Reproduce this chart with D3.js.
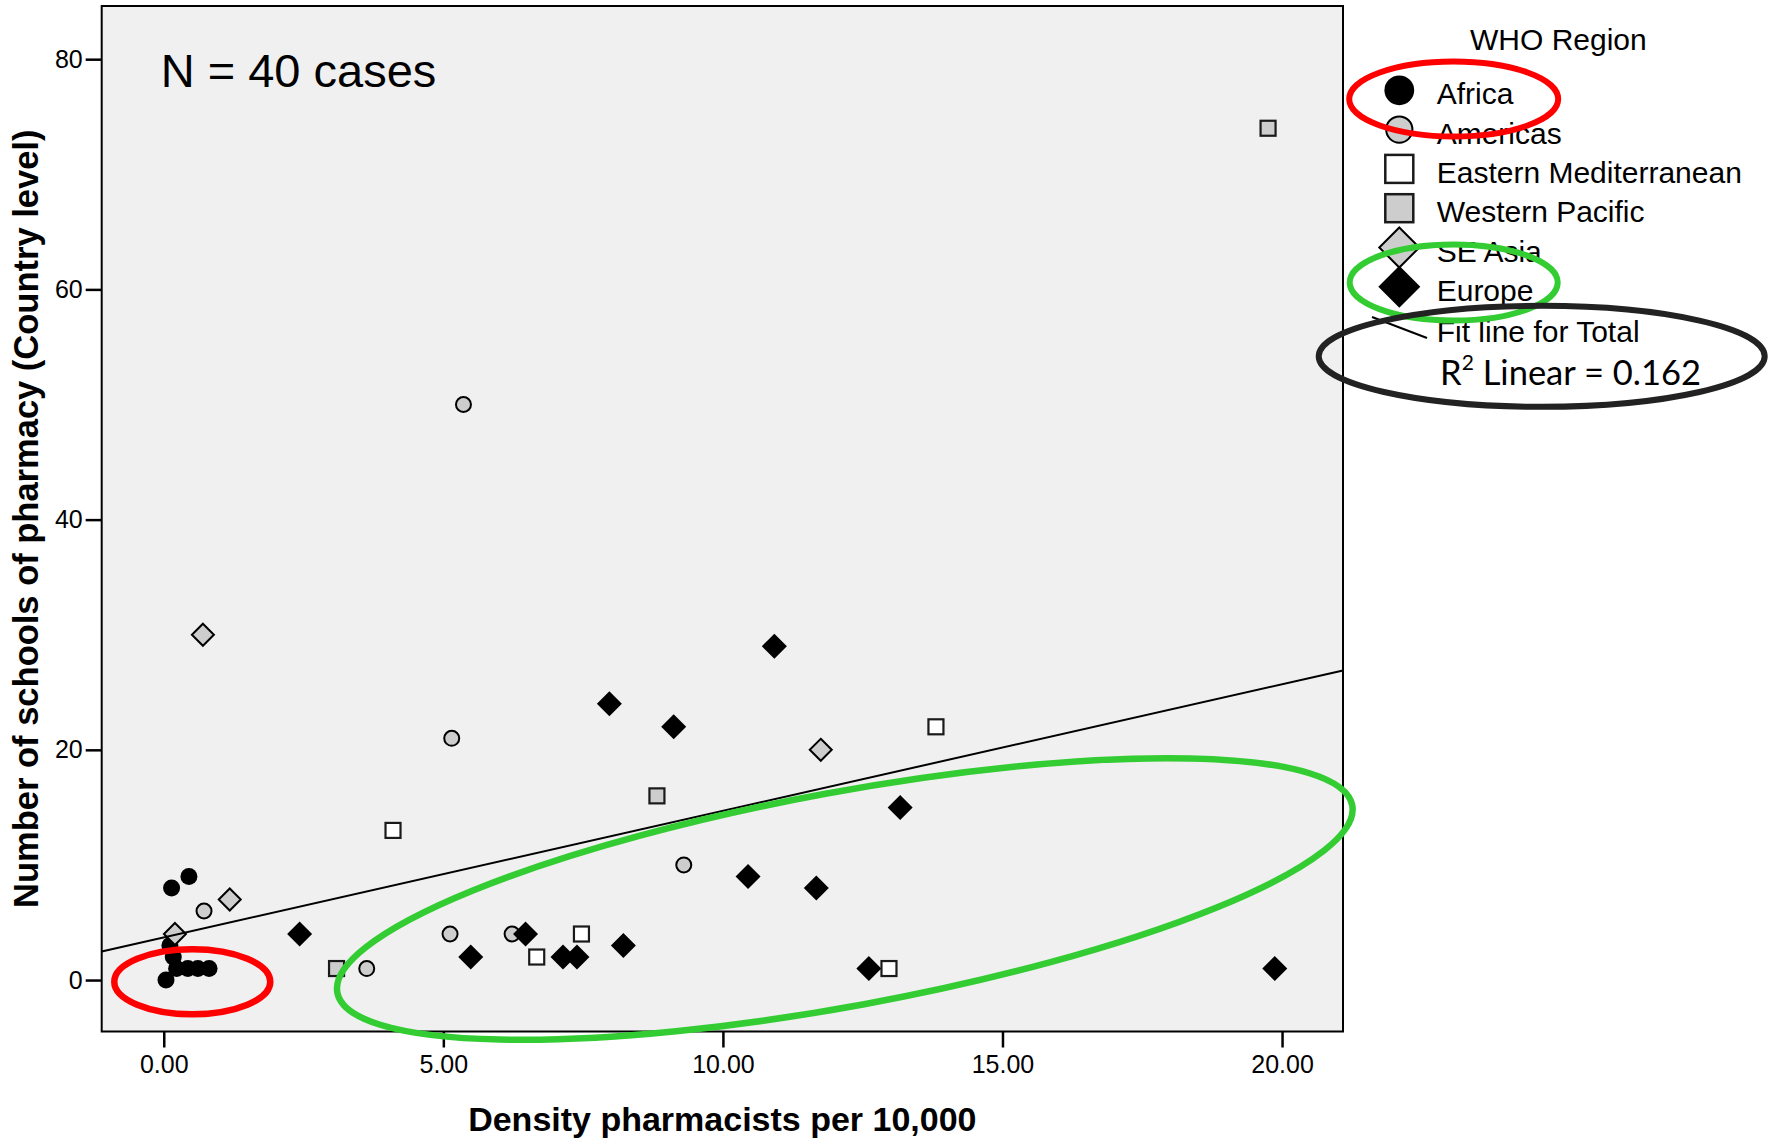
<!DOCTYPE html>
<html>
<head>
<meta charset="utf-8">
<script src="https://cdn.jsdelivr.net/npm/d3@7"></script>
<style>
  body { margin: 0; background: #fff; }
  text { font-family: "Liberation Sans", Arial, sans-serif; }
</style>
</head>
<body>
<div class="chart"></div>
<script>
// --- data ---
var regions = ['Africa', 'Americas', 'Eastern Mediterranean', 'Western Pacific', 'SE Asia', 'Europe'];

var region = [
  'Africa', 'Africa', 'Africa', 'Africa', 'Africa', 'Africa', 'Africa', 'Africa', 'Africa',
  'Americas', 'Americas', 'Americas', 'Americas', 'Americas', 'Americas', 'Americas',
  'Europe', 'Europe', 'Europe', 'Europe', 'Europe', 'Europe', 'Europe',
  'Europe', 'Europe', 'Europe', 'Europe', 'Europe', 'Europe', 'Europe',
  'Eastern Mediterranean', 'Eastern Mediterranean', 'Eastern Mediterranean', 'Eastern Mediterranean', 'Eastern Mediterranean',
  'Western Pacific', 'Western Pacific', 'Western Pacific',
  'SE Asia', 'SE Asia', 'SE Asia', 'SE Asia'
];
var density = [
  0.14, 0.45, 0.11, 0.17, 0.23, 0.43, 0.61, 0.81, 0.04,
  0.72, 5.36, 5.15, 5.12, 6.23, 3.63, 9.30,
  10.92, 7.97, 9.12, 13.17, 10.45, 11.67, 2.43,
  6.47, 8.22, 5.49, 7.14, 7.39, 12.61, 19.87,
  13.81, 4.10, 7.47, 6.67, 12.97,
  19.75, 8.82, 3.09,
  0.70, 11.75, 1.18, 0.20
];
var schools = [
  8, 9, 3, 2, 1, 1, 1, 1, 0,
  6, 50, 21, 4, 4, 1, 10,
  29, 24, 22, 15, 9, 8, 4,
  4, 3, 2, 2, 2, 1, 1,
  22, 13, 4, 2, 1,
  74, 16, 1,
  30, 20, 7, 4
];
var xTicks = [0, 5, 10, 15, 20];
var yTicks = [0, 20, 40, 60, 80];
var fitIntercept = 3.7, fitSlope = 1.1, rSquared = '0.162', nCases = 40;

// marker look per region
var markerStyle = {
  'Africa':                { shape: 'circle',  fill: '#000',    stroke: 'none' },
  'Americas':              { shape: 'circle',  fill: '#cdcdcd', stroke: '#000' },
  'Eastern Mediterranean': { shape: 'square',  fill: '#fff',    stroke: '#1a1a1a' },
  'Western Pacific':       { shape: 'square',  fill: '#cdcdcd', stroke: '#1a1a1a' },
  'SE Asia':               { shape: 'diamond', fill: '#cdcdcd', stroke: '#000' },
  'Europe':                { shape: 'diamond', fill: '#000',    stroke: 'none' }
};

var W = 1778, H = 1140;
var plot = { left: 101.7, right: 1343, top: 6, bottom: 1031.5 };

var svg = d3.select('.chart')
  .append('svg')
  .attr('width', W)
  .attr('height', H);

var x = d3.scaleLinear().domain([-1.11, 21.09]).range([plot.left, plot.right]);
var y = d3.scaleLinear().domain([-4.47, 84.62]).range([plot.bottom, plot.top]);

// plot background + frame
svg.append('rect')
  .attr('x', plot.left).attr('y', plot.top)
  .attr('width', plot.right - plot.left).attr('height', plot.bottom - plot.top)
  .attr('fill', '#f0f0f0')
  .attr('stroke', '#000')
  .attr('stroke-width', 2);

// axes
var xAxis = svg.append('g')
  .attr('transform', 'translate(0,' + plot.bottom + ')')
  .call(d3.axisBottom(x).tickValues(xTicks).tickFormat(d3.format('.2f')).tickSize(16).tickPadding(8));
var yAxis = svg.append('g')
  .attr('transform', 'translate(' + plot.left + ',0)')
  .call(d3.axisLeft(y).tickValues(yTicks).tickFormat(d3.format('d')).tickSize(16).tickPadding(3));

[xAxis, yAxis].forEach(function (a) {
  a.select('.domain').remove();
  a.selectAll('.tick line').attr('stroke', '#000').attr('stroke-width', 2.5);
  a.selectAll('.tick text')
    .attr('fill', '#000')
    .style('font-family', '"Liberation Sans", Arial, sans-serif')
    .style('font-size', '25px');
});

// axis titles
svg.append('text')
  .attr('x', (plot.left + plot.right) / 2)
  .attr('y', 1131)
  .attr('text-anchor', 'middle')
  .style('font-size', '34px')
  .style('font-weight', 'bold')
  .text('Density pharmacists per 10,000');

svg.append('text')
  .attr('transform', 'translate(38,' + (plot.top + plot.bottom) / 2 + ') rotate(-90)')
  .attr('text-anchor', 'middle')
  .style('font-size', '34.5px')
  .style('font-weight', 'bold')
  .text('Number of schools of pharmacy (Country level)');

svg.append('text')
  .attr('x', 160.7)
  .attr('y', 87)
  .style('font-size', '47px')
  .text('N = ' + nCases + ' cases');

// markers
function drawMarker(g, st, big) {
  var k = big ? 1.75 : 1;
  if (st.shape === 'circle') {
    g.append('circle')
      .attr('r', st.stroke === 'none' ? 8.5 * k : 7.5 * k)
      .attr('fill', st.fill)
      .attr('stroke', st.stroke)
      .attr('stroke-width', 2);
  } else if (st.shape === 'square') {
    var s = big ? 28 : 15;
    g.append('rect')
      .attr('x', -s / 2).attr('y', -s / 2)
      .attr('width', s).attr('height', s)
      .attr('fill', st.fill)
      .attr('stroke', st.stroke)
      .attr('stroke-width', big ? 2.5 : 2.2);
  } else {
    var h = st.stroke === 'none' ? (big ? 21 : 12.5) : (big ? 20 : 11);
    g.append('path')
      .attr('d', 'M0,' + (-h) + 'L' + h + ',0L0,' + h + 'L' + (-h) + ',0Z')
      .attr('fill', st.fill)
      .attr('stroke', st.stroke)
      .attr('stroke-width', 2);
  }
}

var points = density.map(function (d, i) {
  return { x: d, y: schools[i], region: region[i] };
});

svg.append('g')
  .attr('class', 'points')
  .selectAll('g')
  .data(points)
  .enter()
  .append('g')
  .attr('transform', function (d) {
    return 'translate(' + x(d.x) + ',' + y(d.y) + ')';
  })
  .each(function (d) {
    drawMarker(d3.select(this), markerStyle[d.region], false);
  });

// fit line for total
var xd = x.domain();
svg.append('line')
  .attr('x1', x(xd[0])).attr('y1', y(fitIntercept + fitSlope * xd[0]))
  .attr('x2', x(xd[1])).attr('y2', y(fitIntercept + fitSlope * xd[1]))
  .attr('stroke', '#000')
  .attr('stroke-width', 2);

// legend
var legend = svg.append('g').attr('class', 'legend');
legend.append('text')
  .attr('x', 1470).attr('y', 50)
  .style('font-size', '30px')
  .text('WHO Region');

regions.forEach(function (r, i) {
  var base = 104.3 + i * 39.3;
  var g = legend.append('g').attr('transform', 'translate(1399.3,' + (base - 14) + ')');
  drawMarker(g, markerStyle[r], true);
  legend.append('text')
    .attr('x', 1436.7).attr('y', base)
    .style('font-size', '30px')
    .text(r);
});

legend.append('line')
  .attr('x1', 1372).attr('y1', 317)
  .attr('x2', 1427).attr('y2', 338)
  .attr('stroke', '#000')
  .attr('stroke-width', 2);
legend.append('text')
  .attr('x', 1436.7).attr('y', 341.7)
  .style('font-size', '30px')
  .text('Fit line for Total');

var r2 = legend.append('text')
  .attr('x', 1440).attr('y', 385)
  .style('font-family', 'Lato, "Open Sans", sans-serif')
  .style('font-size', '34.5px');
r2.append('tspan').text('R');
r2.append('tspan').attr('dy', -15).style('font-size', '21px').text('2');
r2.append('tspan').attr('dy', 15).text(' Linear = ' + rSquared);

// hand-drawn highlight ellipses (cx, cy in data units for the ones inside the plot)
var marks = [
  { cx: x(0.51), cy: y(-0.15), rx: 78, ry: 32.5, rot: 0, color: '#ff0000', w: 6.5 },
  { cx: x(12.18), cy: y(7.04), rx: 516, ry: 107, rot: -10.45, color: '#33cc33', w: 6.5 },
  { cx: 1453.7, cy: 99, rx: 104.5, ry: 37.5, rot: 0, color: '#ff0000', w: 6 },
  { cx: 1453.7, cy: 282.5, rx: 104, ry: 38, rot: 0, color: '#33cc33', w: 6 },
  { cx: 1541.7, cy: 356.3, rx: 223, ry: 50.5, rot: 0, color: '#222', w: 6 }
];

svg.append('g')
  .selectAll('ellipse')
  .data(marks)
  .enter()
  .append('ellipse')
  .attr('transform', function (d) {
    return 'translate(' + d.cx + ',' + d.cy + ') rotate(' + d.rot + ')';
  })
  .attr('rx', function (d) { return d.rx; })
  .attr('ry', function (d) { return d.ry; })
  .attr('fill', 'none')
  .attr('stroke', function (d) { return d.color; })
  .attr('stroke-width', function (d) { return d.w; });
</script>
</body>
</html>
